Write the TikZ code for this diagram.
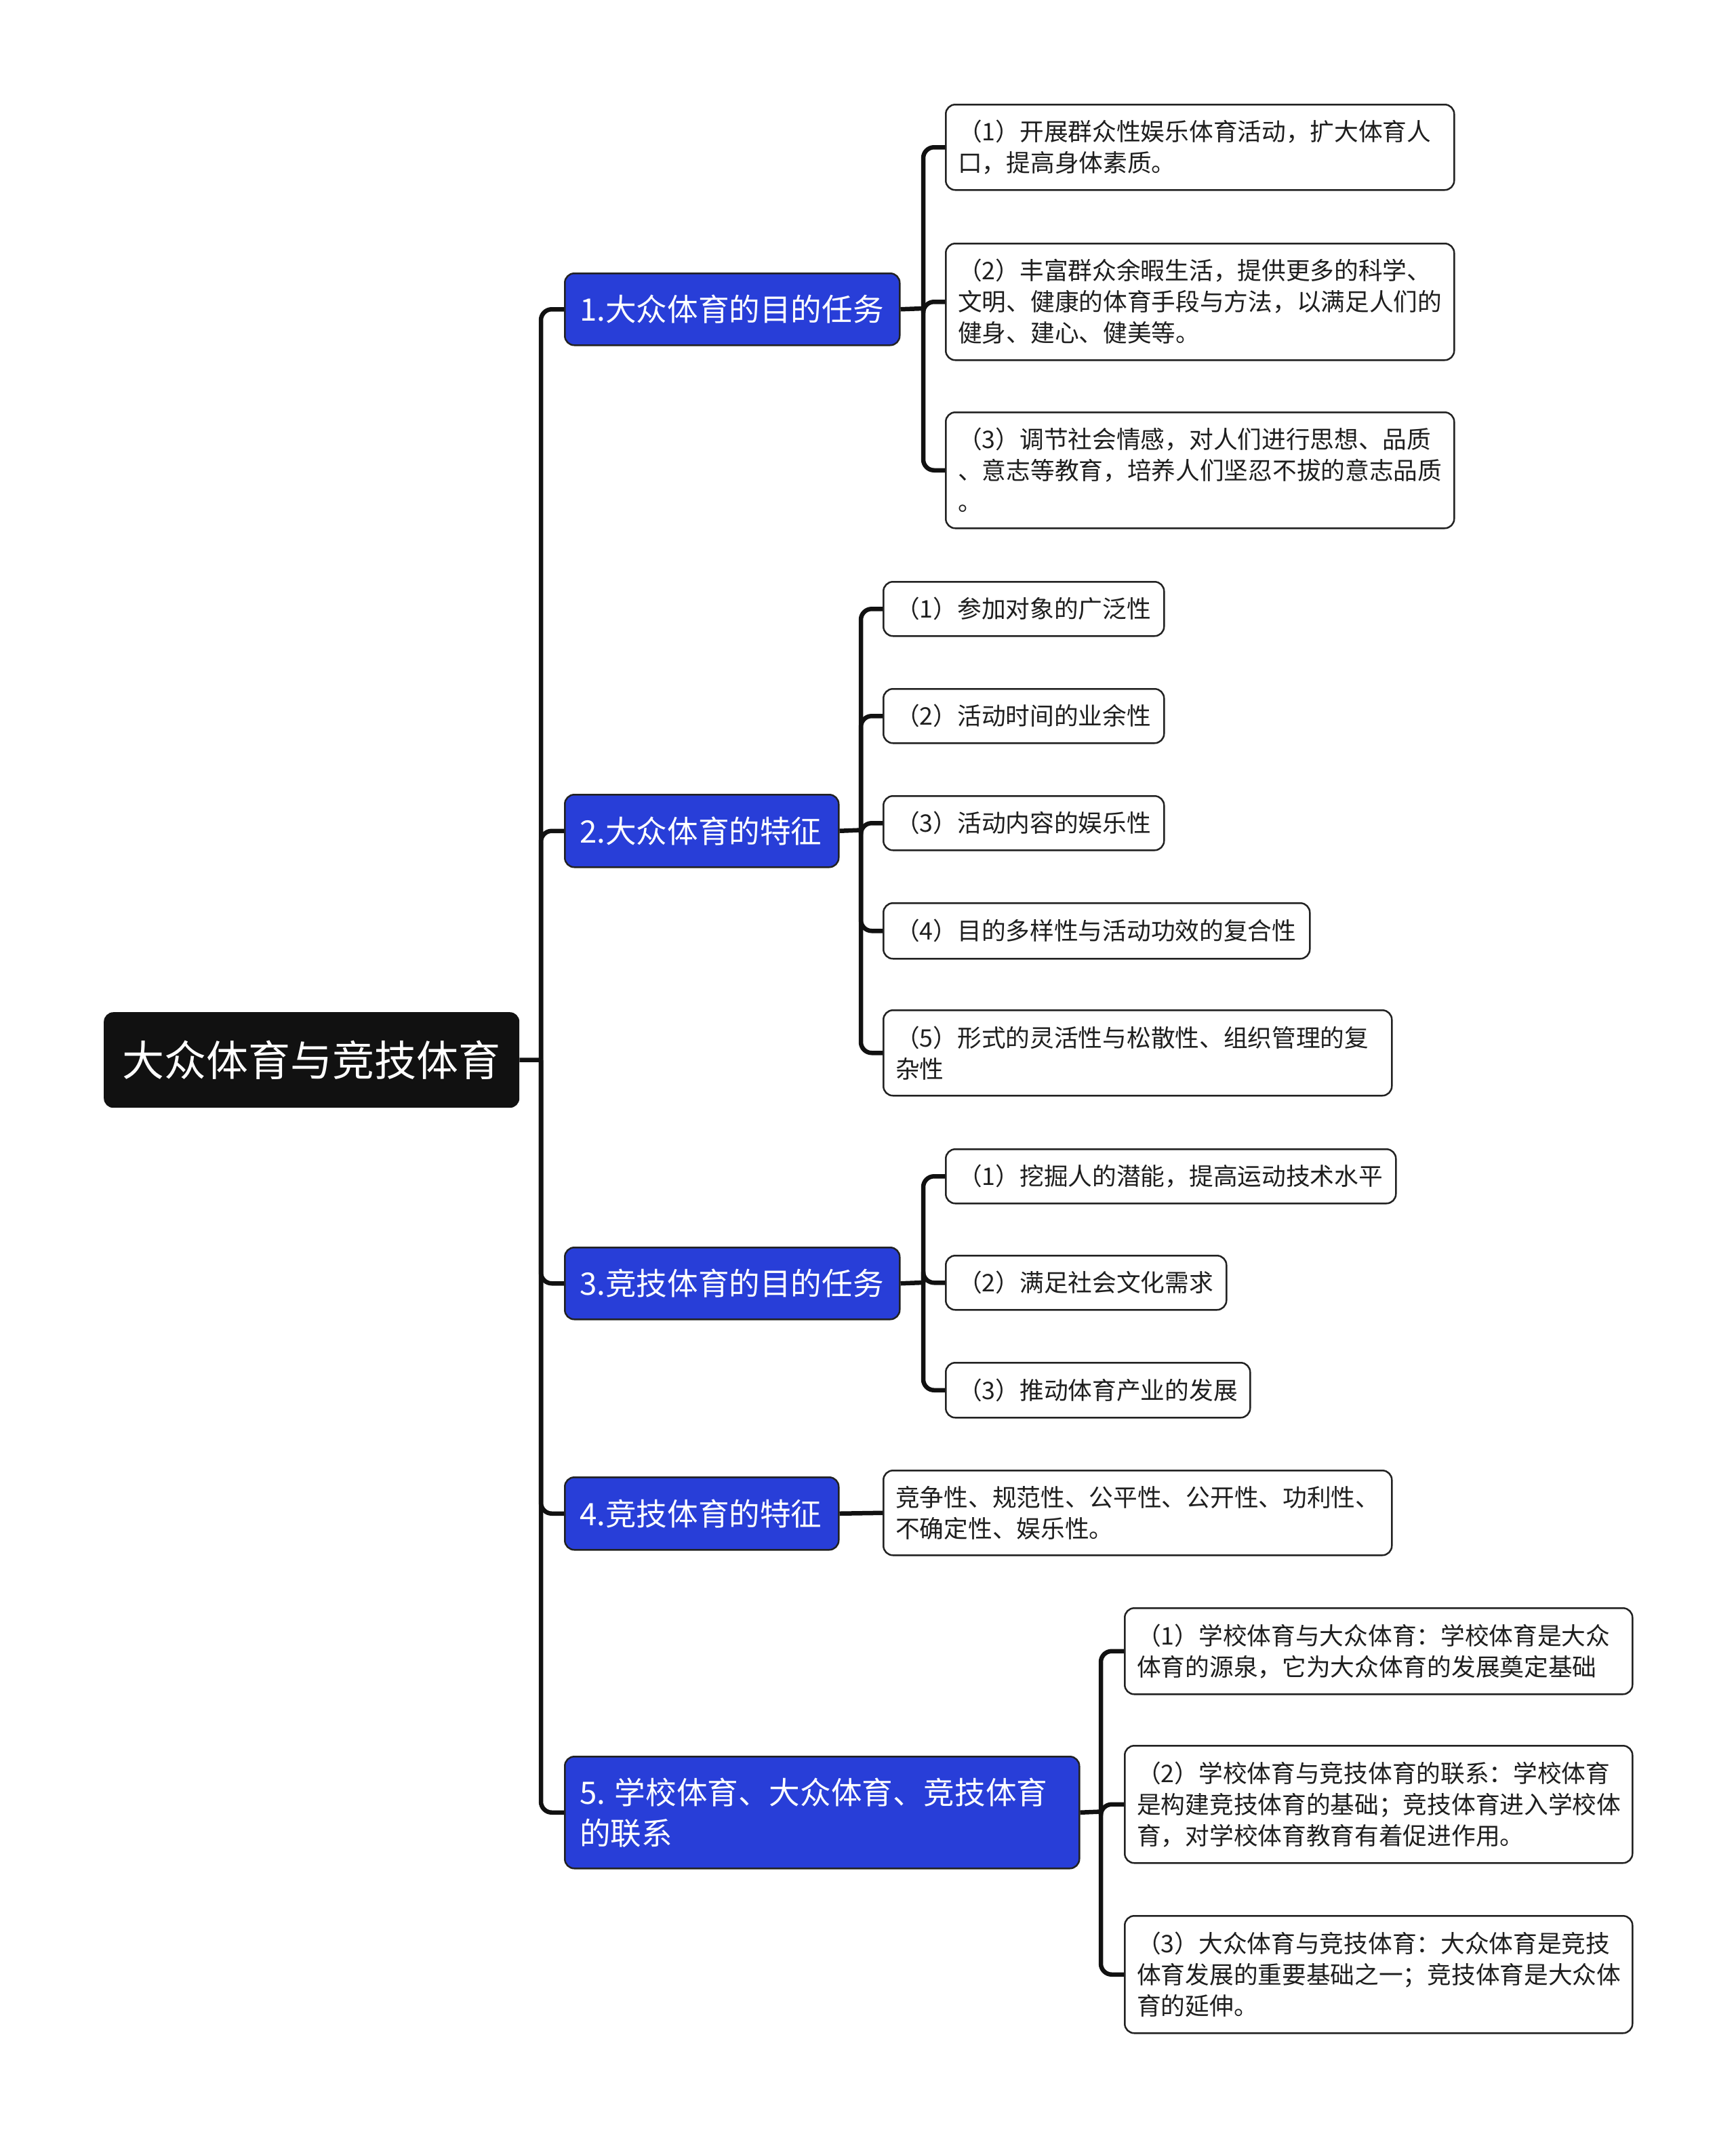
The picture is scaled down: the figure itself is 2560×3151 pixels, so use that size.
\documentclass[tikz,border=0pt]{standalone}
\usepackage{fontspec}
\setmainfont{Noto Sans CJK SC}
\definecolor{bluec}{RGB}{40,62,216}
\definecolor{rootc}{RGB}{17,17,17}
\definecolor{linec}{RGB}{17,17,17}
\definecolor{textc}{RGB}{30,30,30}
\definecolor{borderc}{RGB}{34,34,34}
\tikzset{
 conn/.style={draw=linec, line width=6.5pt, rounded corners=16pt},
 rootbox/.style={fill=rootc, rounded corners=14pt, text=white, font=\fontsize{62}{72}\selectfont, anchor=north west, inner sep=0pt, align=center},
 topic/.style={fill=bluec, draw=borderc, line width=2.5pt, rounded corners=14pt, text=white, font=\fontsize{45.6}{60}\selectfont, anchor=north west, inner xsep=22pt, inner ysep=0pt, align=left},
 leaf/.style={fill=white, draw=borderc, line width=2.5pt, rounded corners=14pt, text=textc, font=\fontsize{35.7}{46}\selectfont, anchor=north west, inner xsep=18pt, inner ysep=0pt, align=left},
}
\begin{document}
\begin{tikzpicture}[x=1pt,y=-1pt]
\useasboundingbox[fill=white] (0,0) rectangle (2560,3151);
% root
\node[rootbox, minimum width=613pt, minimum height=141pt] (root) at (153,1493) {大众体育与竞技体育};
% topics
\node[topic, minimum width=494pt, minimum height=106pt, text width=450pt] (b1) at (832,402) {1.大众体育的目的任务};
\node[topic, minimum width=404pt, minimum height=107pt, text width=360pt] (b2) at (832,1171) {2.大众体育的特征};
\node[topic, minimum width=494pt, minimum height=106pt, text width=450pt] (b3) at (832,1839) {3.竞技体育的目的任务};
\node[topic, minimum width=404pt, minimum height=107pt, text width=360pt] (b4) at (832,2178) {4.竞技体育的特征};
\node[topic, minimum width=759pt, minimum height=165pt, text width=715pt] (b5) at (832,2590) {5.\hspace{0.3em}学校体育、大众体育、竞技体育\\的联系};
% leaves group 1
\node[leaf, minimum width=750pt, minimum height=126pt, text width=714pt] (l1a) at (1394,153) {（1）开展群众性娱乐体育活动，扩大体育人\\口，提高身体素质。};
\node[leaf, minimum width=750pt, minimum height=172pt, text width=714pt] (l1b) at (1394,358) {（2）丰富群众余暇生活，提供更多的科学、\\文明、健康的体育手段与方法，以满足人们的\\健身、建心、健美等。};
\node[leaf, minimum width=750pt, minimum height=171pt, text width=714pt] (l1c) at (1394,607) {（3）调节社会情感，对人们进行思想、品质\\、意志等教育，培养人们坚忍不拔的意志品质\\。};
% leaves group 2
\node[leaf, minimum width=414pt, minimum height=80pt, text width=378pt] (l2a) at (1302,857) {（1）参加对象的广泛性};
\node[leaf, minimum width=414pt, minimum height=80pt, text width=378pt] (l2b) at (1302,1015) {（2）活动时间的业余性};
\node[leaf, minimum width=414pt, minimum height=80pt, text width=378pt] (l2c) at (1302,1173) {（3）活动内容的娱乐性};
\node[leaf, minimum width=629pt, minimum height=82pt, text width=593pt] (l2d) at (1302,1331) {（4）目的多样性与活动功效的复合性};
\node[leaf, minimum width=750pt, minimum height=126pt, text width=714pt] (l2e) at (1302,1489) {（5）形式的灵活性与松散性、组织管理的复\\杂性};
% leaves group 3
\node[leaf, minimum width=664pt, minimum height=80pt, text width=628pt] (l3a) at (1394,1694) {（1）挖掘人的潜能，提高运动技术水平};
\node[leaf, minimum width=414pt, minimum height=80pt, text width=378pt] (l3b) at (1394,1851) {（2）满足社会文化需求};
\node[leaf, minimum width=449pt, minimum height=81pt, text width=413pt] (l3c) at (1394,2009) {（3）推动体育产业的发展};
% leaf group 4
\node[leaf, minimum width=750pt, minimum height=125pt, text width=714pt] (l4) at (1302,2168) {竞争性、规范性、公平性、公开性、功利性、\\不确定性、娱乐性。};
% leaves group 5
\node[leaf, minimum width=749pt, minimum height=127pt, text width=713pt] (l5a) at (1658,2371) {（1）学校体育与大众体育：学校体育是大众\\体育的源泉，它为大众体育的发展奠定基础};
\node[leaf, minimum width=749pt, minimum height=173pt, text width=713pt] (l5b) at (1658,2574) {（2）学校体育与竞技体育的联系：学校体育\\是构建竞技体育的基础；竞技体育进入学校体\\育，对学校体育教育有着促进作用。};
\node[leaf, minimum width=749pt, minimum height=173pt, text width=713pt] (l5c) at (1658,2825) {（3）大众体育与竞技体育：大众体育是竞技\\体育发展的重要基础之一；竞技体育是大众体\\育的延伸。};
% junctions
\coordinate (t0) at (798,1563.5);
\coordinate (j1) at (1362,455);
\coordinate (j2) at (1270,1224.5);
\coordinate (j3) at (1362,1892);
\coordinate (j5) at (1624,2672.5);
% connectors
\draw[conn] (root.east) -- (t0);
\foreach \b in {b1,b2,b3,b4,b5} { \draw[conn] (t0) |- (\b.west); }
\draw[conn] (b1.east) -- (j1);
\foreach \l in {l1a,l1b,l1c} { \draw[conn] (j1) |- (\l.west); }
\draw[conn] (b2.east) -- (j2);
\foreach \l in {l2a,l2b,l2c,l2d,l2e} { \draw[conn] (j2) |- (\l.west); }
\draw[conn] (b3.east) -- (j3);
\foreach \l in {l3a,l3b,l3c} { \draw[conn] (j3) |- (\l.west); }
\draw[conn] (b4.east) -- (l4.west);
\draw[conn] (b5.east) -- (j5);
\foreach \l in {l5a,l5b,l5c} { \draw[conn] (j5) |- (\l.west); }
\end{tikzpicture}
\end{document}
